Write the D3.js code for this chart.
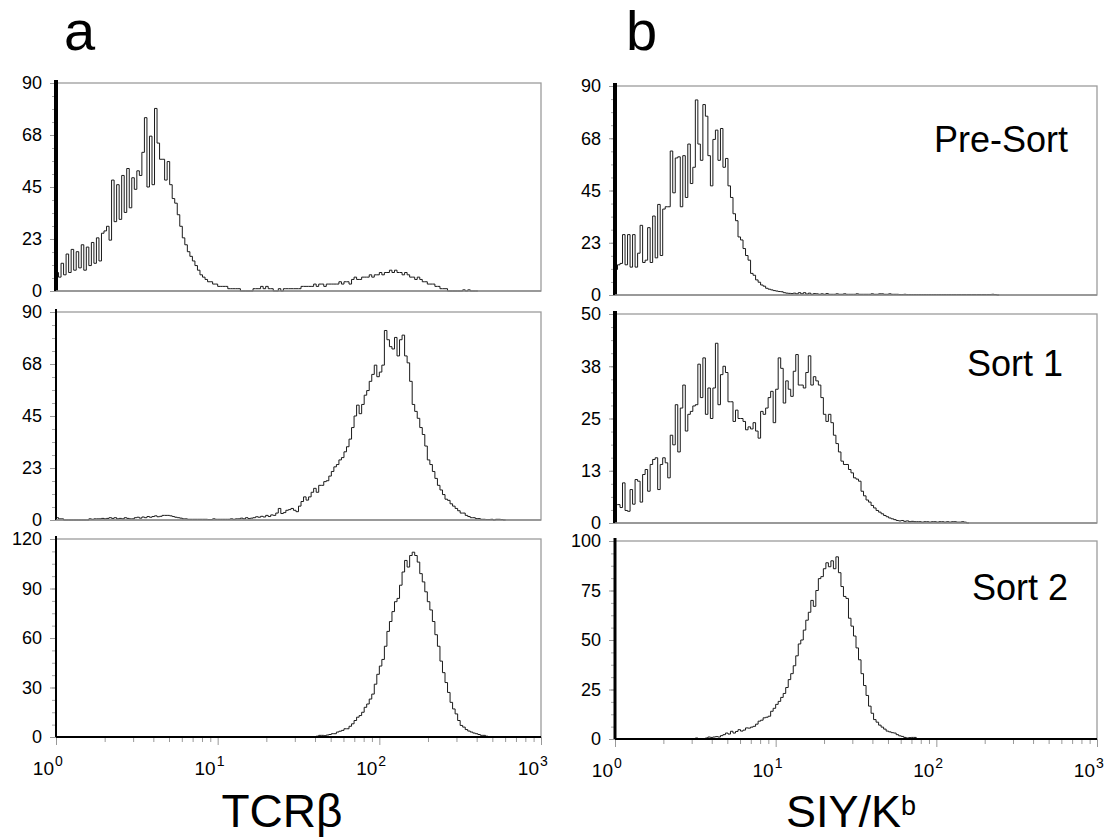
<!DOCTYPE html>
<html>
<head>
<meta charset="utf-8">
<script src="https://cdn.jsdelivr.net/npm/d3@7"></script>
<style>
  body { margin: 0; background: #fff; }
  text { font-family: "Liberation Sans", Arial, sans-serif; fill: #000; }
</style>
</head>
<body>
<script>
// histogram channels: 64 per decade over 10^0 .. 10^3
var channelsPerDecade = 64;

// TCRb, pre-sort (first channel = 0)
var tcrPreStart = 0;
var tcrPre = [8,6,12,7,16,8,18,9,17,10,
  20,9,19,11,21,12,23,13,25,26,
  28,22,48,30,46,31,50,34,53,36,
  49,44,52,50,60,75,45,67,46,79,
  64,57,57,48,56,46,40,38,33,28,
  23,20,17,15,13,11,9,7,6,5,
  4,4,3,3,2,2,2,2,1,1,
  1,1,1,0,0,0,0,0,1,1,
  1,2,1,2,1,1,0,0,1,0,
  1,1,1,1,1,1,1,2,2,2,
  2,2,3,2,3,3,2,3,3,3,
  3,3,4,3,4,4,3,5,6,5,
  5,6,6,6,7,6,7,7,8,7,
  8,8,9,8,9,8,8,7,8,7,
  6,6,5,6,5,4,4,3,3,3,
  2,2,1,1,1,0,0,0,0,0,
  0,0.5,0,0.5,0,0,0];

// TCRb, sort 1
var tcrSort1Start = 0;
var tcrSort1 = [1,0.5,0.5,0,0,0,0,0,0,0,
  0,0,0,0.5,0.3,0.5,0.5,0.5,0.7,0.5,
  0.7,1,0.7,1,0.5,0.7,0.5,1,0.7,0.5,
  0.5,1,1.2,0.8,1.3,1,1.5,1.2,1.5,1.8,
  1.4,1.6,2,2,2,1.8,1.5,1.2,1,0.8,
  0.5,0.5,0.3,0.3,0.3,0.3,0.3,0.3,0.3,0.3,
  0.2,0.2,0.5,0.3,0.3,0.3,0.3,0.3,0.3,0.5,
  0.3,0.5,0.5,0.8,0.5,1,0.6,0.8,1,1.4,
  1.2,1.6,1.3,2,1.5,2.2,2,3,5,2.8,
  3.2,4.2,4.5,5,4.2,3.6,6,8,10,8.6,
  10,12,13.7,12,15,15,16.6,17,19,21,
  23,24,26,27,29.5,31.7,35,40,45,49.7,
  46,50,54,56,60,63,67,62,64,67,
  82,78,75,74,79,71,78,80,71,68,
  60,50,47,44,40,37,32,26,24,21,
  18,15,13,11,9,8.5,7,6,5,4,
  3,3,2,1.5,1,1,0.6,0.6,0.3,0.3,
  0.2,0.2,0.3,0,0.3,0.3,0.2,0];

// TCRb, sort 2
var tcrSort2Start = 103;
var tcrSort2 = [0.5,1,1,0.8,1.2,1.5,2,
  2,3,3.5,4,5,5,6.5,8,10,12,
  13,15,18,20,23,26,32,38,43,47,
  55,64,70,76,82,84,92,100,107,103,
  110,112,110,106,99,94,88,82,77,70,
  62,55,46,39,33,27,21,17,14,10,
  7,6,4.5,3.6,3,2.4,2,1.5,1,1,0.5];

// SIY/Kb, pre-sort
var siyPreStart = 0;
var siyPre = [11,13,13.6,26,13,26,12,26,12,18,
  30,14,15,29,14,34,16,39,17,37,
  38,38,62,44,59,59.5,38,60,42,65,
  48,55,84,65,58,82,77,60,47,67,
  71,58,71.7,55,58.8,47,42,35,32,25,
  23.7,20,17,15,9.3,8.5,6.5,5.5,4.3,3.8,
  2.9,2.5,2.2,1.9,1.7,1.5,1.4,1,0.8,0.7,
  0.6,0.8,0.5,1,0.5,1,0.4,0.8,0.3,0.6,
  0.5,0.3,0.5,0.3,0.6,0.3,0.3,0.3,0.5,0.3,
  0.3,0.5,0.3,0.3,0.3,0.3,0.5,0.3,0.3,0.3,
  0.3,0.3,0.5,0.3,0.3,0.5,0.5,0.3,0.3,0.5,
  0.3,0.3,0.3,0.2,0.2,0.3,0.2,0.2,0.2,0.2,
  0.2,0.2,0.2,0.2,0.2,0.2,0.2,0.2,0.2,0.2,
  0.2,0.2,0.2,0.2,0.2,0.2,0.2,0.2,0.2,0.2,
  0.2,0.2,0.2,0.2,0.2,0.2,0.2,0.2,0.2,0.2,
  0.3,0.2,0];

// SIY/Kb, sort 1
var siySort1Start = 0;
var siySort1 = [4.4,4.4,3.7,9.6,3,2.8,8,4.5,10.4,10,
  5,11.6,12.8,7.6,14,15.2,15.6,8,14,15.6,
  14.4,10.8,21,18.7,28.3,17,27.5,33,22,26,
  26.7,28,28.3,38,30,39.5,26,32.3,25,32.3,
  43,28.3,35.5,37.5,36,29,29,24.3,27,25,
  25,24.3,22.3,23,22.5,24,22,20.3,26.7,26,
  27.5,30,31.5,24,32,39.5,37,28.7,34,32,
  30.3,36.3,40.3,33,33,32.3,36,40,33,35,
  34,33,30,26,24.3,26,24,21,19,17,
  14.8,14,14,12.8,12,10.8,10.5,10,7.6,6.5,
  5.5,5,4.2,3.6,3,2.6,2.2,1.8,1.5,1.2,
  1,0.8,0.6,0.5,0.6,0.4,0.5,0.3,0.4,0.3,
  0.3,0.3,0.2,0.3,0.3,0.2,0.3,0.3,0.2,0.3,
  0.3,0.2,0.3,0.2,0.3,0.3,0.2,0.2,0.3,0.2,0];

// SIY/Kb, sort 2
var siySort2Start = 32;
var siySort2 = [0.5,0,0,0,0.5,1,0.8,1,
  1.2,1,1.7,2.2,3,2.5,3.9,3,3.8,4.7,
  4,4.5,5.6,5.5,6,6.4,7.5,9,9.5,10.7,
  11,11.5,14,15.5,17.5,19,21,23,26,30,
  33,37,42,48,50,55,60,64,70,67,
  75,81,82,86,89,87,90,86,92,84,
  77,72,71,61,57,52,46,40,33,27,
  22,16.6,13,9.8,8.5,7,6,5,4,3.6,
  3.2,3,2.2,1.6,1.3,0.8,0.5,0.7,0.8,0.8,0];

// y axis ticks and their printed labels
var ticksA90 = [0, 22.5, 45, 67.5, 90];
var labelsA90 = ["0", "23", "45", "68", "90"];
var ticksA120 = [0, 30, 60, 90, 120];
var labelsA120 = ["0", "30", "60", "90", "120"];
var ticksB50 = [0, 12.5, 25, 37.5, 50];
var labelsB50 = ["0", "13", "25", "38", "50"];
var ticksB100 = [0, 25, 50, 75, 100];
var labelsB100 = ["0", "25", "50", "75", "100"];

var decades = [0, 1, 2, 3];
var sampleNames = ["Pre-Sort", "Sort 1", "Sort 2"];
var markerTitles = ["TCR\u03b2", "SIY/K"];
var panelLetters = ["a", "b"];

var panels = [
  {col: 0, row: 0, counts: tcrPre, start: tcrPreStart, yMax: 90, ticks: ticksA90, labels: labelsA90},
  {col: 0, row: 1, counts: tcrSort1, start: tcrSort1Start, yMax: 90, ticks: ticksA90, labels: labelsA90},
  {col: 0, row: 2, counts: tcrSort2, start: tcrSort2Start, yMax: 120, ticks: ticksA120, labels: labelsA120},
  {col: 1, row: 0, counts: siyPre, start: siyPreStart, yMax: 90, ticks: ticksA90, labels: labelsA90},
  {col: 1, row: 1, counts: siySort1, start: siySort1Start, yMax: 50, ticks: ticksB50, labels: labelsB50},
  {col: 1, row: 2, counts: siySort2, start: siySort2Start, yMax: 100, ticks: ticksB100, labels: labelsB100}
];

// layout
var cols = [[56, 541], [615, 1097]];
var rows = [[[83, 291], [312, 520], [539, 737]],
            [[86, 295], [314, 523], [541, 739]]];
var barWidth = [[4, 2, 2], [4, 4, 3]];
var nameRight = [29, 34, 29];
var nameDrop = [66, 62, 59];

var svg = d3.select("body").append("svg")
    .attr("width", 1109)
    .attr("height", 838);

panels.forEach(function(p) {
    var x0 = cols[p.col][0], x1 = cols[p.col][1];
    var top = rows[p.col][p.row][0], bottom = rows[p.col][p.row][1];

    var x = d3.scaleLog().domain([1, 1000]).range([x0, x1]);
    var y = d3.scaleLinear().domain([0, p.yMax]).range([bottom, top]);

    var g = svg.append("g");

    // frame
    g.append("rect")
        .attr("x", x0).attr("y", top)
        .attr("width", x1 - x0).attr("height", bottom - top)
        .attr("fill", "none")
        .attr("stroke", "#9c9c9c")
        .attr("stroke-width", 1.3);

    // minor y ticks
    var minor = d3.range(0, 17).map(function(k) { return p.yMax * k / 16; });
    g.append("g")
        .attr("transform", "translate(" + x0 + ",0)")
        .call(d3.axisLeft(y).tickValues(minor).tickSize(4).tickFormat(""))
        .call(function(a) {
            a.select(".domain").remove();
            a.selectAll("line").attr("stroke", "#aaa");
        });

    // major y ticks with labels
    g.append("g")
        .attr("transform", "translate(" + x0 + ",0)")
        .call(d3.axisLeft(y).tickValues(p.ticks).tickSize(6).tickPadding(8)
            .tickFormat(function(d, i) { return p.labels[i]; }))
        .call(function(a) {
            a.select(".domain").remove();
            a.selectAll("line").attr("stroke", "#999");
            a.selectAll("text")
                .attr("font-size", 18)
                .attr("font-family", "Liberation Sans, Arial, sans-serif")
                .attr("fill", "#000");
        });

    // histogram trace
    var pts = p.counts.map(function(c, i) {
        return [Math.pow(10, (p.start + i) / channelsPerDecade), c];
    });
    pts.push([Math.pow(10, (p.start + p.counts.length) / channelsPerDecade),
              p.counts[p.counts.length - 1]]);

    var line = d3.line()
        .x(function(d) { return x(d[0]); })
        .y(function(d) { return y(d[1]); })
        .curve(d3.curveStepAfter);

    g.append("path")
        .datum(pts)
        .attr("d", line)
        .attr("fill", "none")
        .attr("stroke", "#1a1a1a")
        .attr("stroke-width", 1);

    // thick first channel / y axis bar
    g.append("line")
        .attr("x1", x0).attr("x2", x0)
        .attr("y1", top - 3).attr("y2", bottom)
        .attr("stroke", "#000")
        .attr("stroke-width", barWidth[p.col][p.row]);

    if (p.row === 2) {
        // x axis with log ticks
        var minorX = [];
        decades.slice(0, 3).forEach(function(k) {
            d3.range(2, 10).forEach(function(m) { minorX.push(m * Math.pow(10, k)); });
        });
        g.append("g")
            .attr("transform", "translate(0," + bottom + ")")
            .call(d3.axisBottom(x).tickValues(minorX).tickSize(5).tickFormat(""))
            .call(function(a) {
                a.select(".domain").remove();
                a.selectAll("line").attr("stroke", "#999");
            });
        g.append("g")
            .attr("transform", "translate(0," + bottom + ")")
            .call(d3.axisBottom(x).tickValues(decades.map(function(k) { return Math.pow(10, k); }))
                .tickSize(8).tickFormat(""))
            .call(function(a) {
                a.select(".domain").remove();
                a.selectAll("line").attr("stroke", "#999");
            });

        g.append("line")
            .attr("x1", x0).attr("x2", x1)
            .attr("y1", bottom).attr("y2", bottom)
            .attr("stroke", "#000")
            .attr("stroke-width", 2);

        decades.forEach(function(k) {
            var tx = x(Math.pow(10, k));
            g.append("text")
                .attr("x", tx - 2).attr("y", bottom + 38)
                .attr("text-anchor", "end")
                .attr("font-size", 19)
                .text("10");
            g.append("text")
                .attr("x", tx - 1).attr("y", bottom + 29)
                .attr("font-size", 14)
                .text(k);
        });
    } else {
        g.append("line")
            .attr("x1", x0).attr("x2", x1)
            .attr("y1", bottom).attr("y2", bottom)
            .attr("stroke", "#8c8c8c")
            .attr("stroke-width", 1.3);
    }

    // sample name inside the right column panels
    if (p.col === 1) {
        g.append("text")
            .attr("x", x1 - nameRight[p.row])
            .attr("y", top + nameDrop[p.row])
            .attr("text-anchor", "end")
            .attr("font-size", 36)
            .text(sampleNames[p.row]);
    }
});

// axis titles
svg.append("text")
    .attr("x", 282).attr("y", 827)
    .attr("text-anchor", "middle")
    .attr("font-size", 46)
    .text(markerTitles[0]);

var t2 = svg.append("text")
    .attr("x", 851).attr("y", 827)
    .attr("text-anchor", "middle")
    .attr("font-size", 45);
t2.append("tspan").text(markerTitles[1]);
t2.append("tspan").attr("font-size", 27).attr("dy", -12).text("b");

// panel letters
svg.append("text").attr("x", 64).attr("y", 50).attr("font-size", 56).text(panelLetters[0]);
svg.append("text").attr("x", 626).attr("y", 50).attr("font-size", 56).text(panelLetters[1]);
</script>
</body>
</html>
